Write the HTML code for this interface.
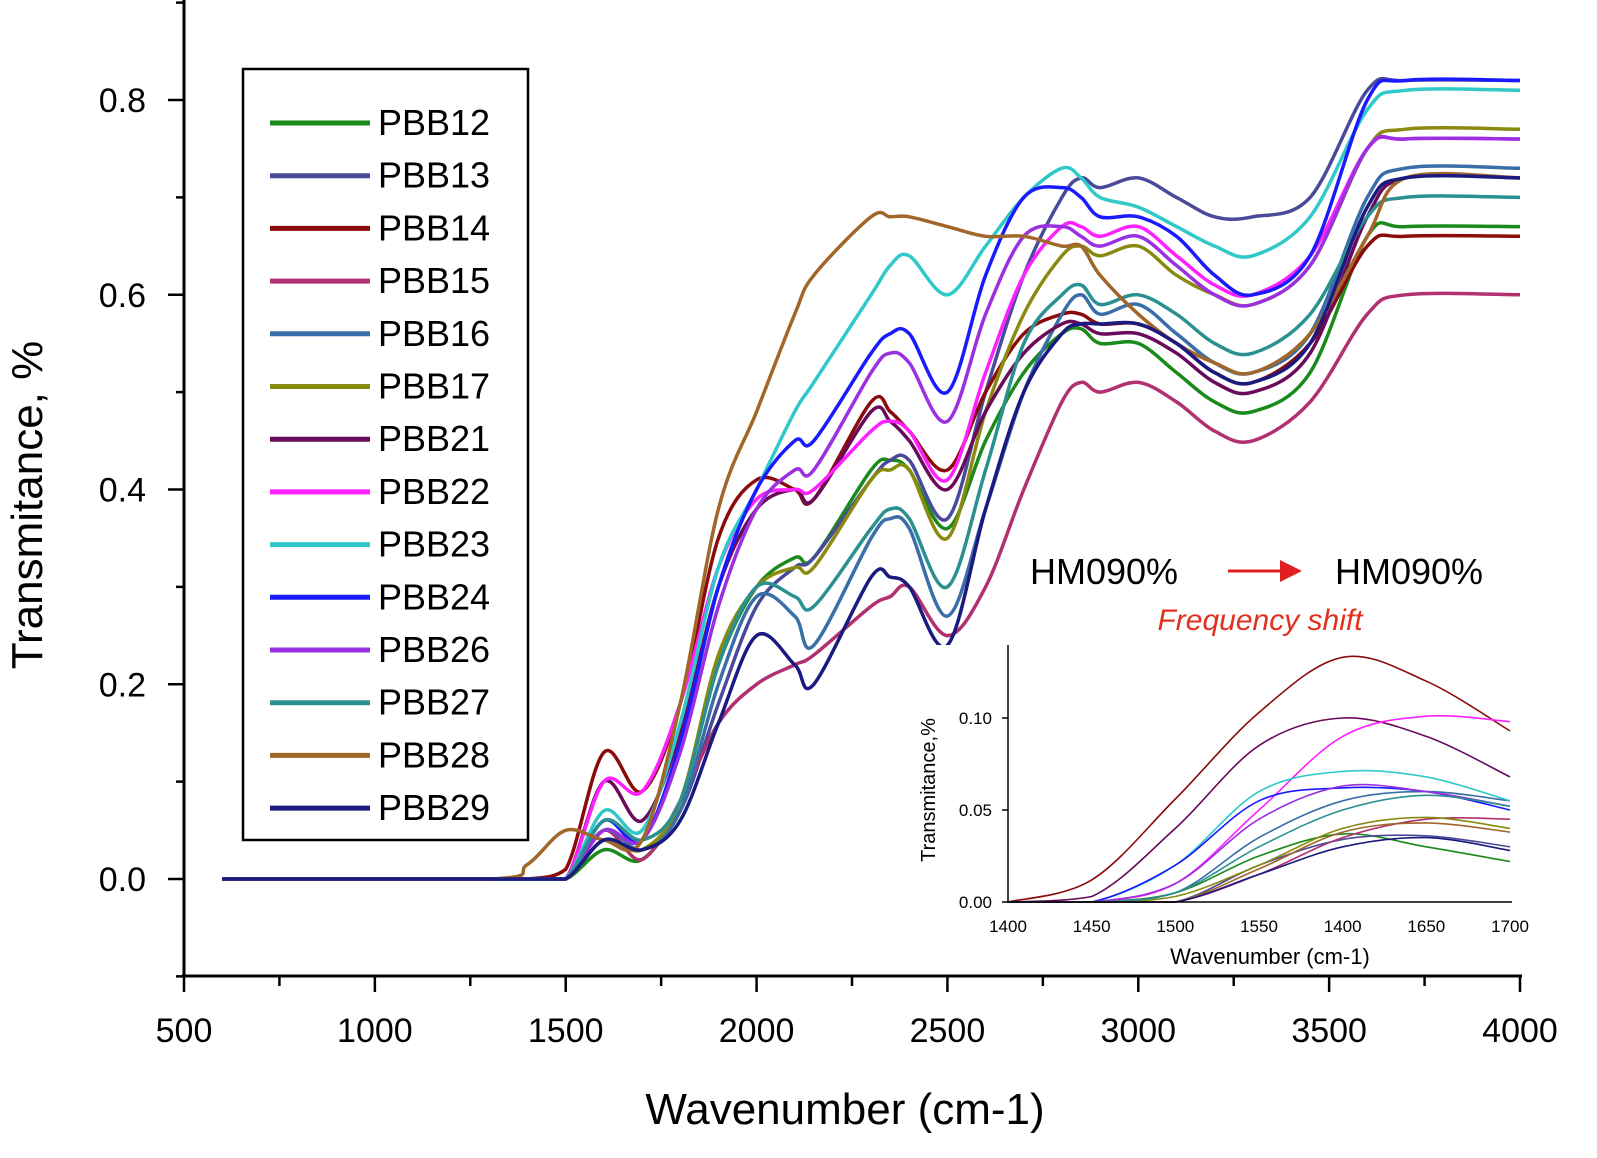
<!DOCTYPE html>
<html><head><meta charset="utf-8"><style>
body{margin:0;background:#fff;}
svg{display:block;font-family:"Liberation Sans",sans-serif;}
</style></head><body>
<svg id="chart" width="1597" height="1158" viewBox="0 0 1597 1158"></svg>
<script>
const wn=[600,1300,1400,1500,1600,1700,1800,1900,2000,2100,2150,2300,2350,2400,2500,2600,2700,2800,2850,2900,3000,3100,3200,3300,3450,3600,3700,4000];
const names=["PBB12","PBB13","PBB14","PBB15","PBB16","PBB17","PBB21","PBB22","PBB23","PBB24","PBB26","PBB27","PBB28","PBB29"];
const colors=["#1a8a1a","#4a4a9a","#8b0a0a","#b03070","#3a6ea8","#8a8a10","#6a0a5a","#ff20ff","#30c8c8","#1a1aff","#9a30e0","#2a9090","#a0662a","#1a1a80"];
const vPBB12=[0,0,0,0,0.03,0.02,0.08,0.22,0.30,0.33,0.33,0.42,0.43,0.42,0.36,0.45,0.52,0.56,0.565,0.55,0.55,0.52,0.49,0.48,0.52,0.66,0.67,0.67];
const vPBB13=[0,0,0,0,0.04,0.03,0.07,0.18,0.28,0.32,0.33,0.41,0.43,0.43,0.37,0.5,0.62,0.70,0.72,0.71,0.72,0.70,0.68,0.68,0.70,0.81,0.82,0.82];
const vPBB14=[0,0,0,0.01,0.13,0.09,0.18,0.35,0.41,0.40,0.39,0.49,0.48,0.46,0.42,0.50,0.56,0.58,0.58,0.57,0.57,0.55,0.52,0.51,0.55,0.65,0.66,0.66];
const vPBB15=[0,0,0,0,0.05,0.02,0.08,0.16,0.20,0.22,0.23,0.28,0.29,0.30,0.25,0.30,0.40,0.49,0.51,0.50,0.51,0.49,0.46,0.45,0.49,0.58,0.60,0.60];
const vPBB16=[0,0,0,0,0.05,0.03,0.07,0.20,0.29,0.27,0.24,0.35,0.37,0.36,0.27,0.38,0.50,0.58,0.60,0.58,0.59,0.56,0.53,0.52,0.56,0.70,0.73,0.73];
const vPBB17=[0,0,0,0,0.04,0.03,0.08,0.23,0.30,0.32,0.32,0.41,0.42,0.42,0.35,0.48,0.58,0.64,0.65,0.64,0.65,0.62,0.60,0.59,0.63,0.75,0.77,0.77];
const vPBB21=[0,0,0,0,0.10,0.06,0.15,0.30,0.38,0.40,0.39,0.48,0.47,0.45,0.40,0.48,0.54,0.57,0.57,0.56,0.56,0.54,0.51,0.50,0.54,0.68,0.72,0.72];
const vPBB22=[0,0,0,0,0.10,0.09,0.18,0.32,0.39,0.40,0.40,0.46,0.47,0.46,0.41,0.52,0.62,0.67,0.67,0.66,0.67,0.64,0.61,0.60,0.64,0.75,0.76,0.76];
const vPBB23=[0,0,0,0,0.07,0.05,0.16,0.32,0.40,0.48,0.51,0.60,0.63,0.64,0.60,0.65,0.70,0.73,0.72,0.70,0.69,0.67,0.65,0.64,0.68,0.79,0.81,0.81];
const vPBB24=[0,0,0,0,0.06,0.04,0.14,0.30,0.40,0.45,0.45,0.54,0.56,0.56,0.50,0.62,0.70,0.71,0.70,0.68,0.68,0.66,0.62,0.60,0.64,0.80,0.82,0.82];
const vPBB26=[0,0,0,0,0.05,0.04,0.13,0.28,0.38,0.42,0.42,0.52,0.54,0.53,0.47,0.58,0.66,0.67,0.66,0.65,0.66,0.63,0.60,0.59,0.63,0.75,0.76,0.76];
const vPBB27=[0,0,0,0,0.06,0.04,0.08,0.22,0.30,0.29,0.28,0.36,0.38,0.37,0.30,0.42,0.55,0.60,0.61,0.59,0.60,0.58,0.55,0.54,0.58,0.68,0.70,0.70];
const vPBB28=[0,0,0.015,0.05,0.04,0.04,0.18,0.38,0.48,0.58,0.62,0.68,0.68,0.68,0.67,0.66,0.66,0.65,0.65,0.62,0.58,0.55,0.53,0.52,0.56,0.66,0.72,0.72];
const vPBB29=[0,0,0,0,0.04,0.03,0.06,0.16,0.25,0.22,0.20,0.31,0.31,0.30,0.24,0.38,0.50,0.56,0.57,0.57,0.57,0.55,0.52,0.51,0.55,0.69,0.72,0.72];
const mainSeries=[vPBB12,vPBB13,vPBB14,vPBB15,vPBB16,vPBB17,vPBB21,vPBB22,vPBB23,vPBB24,vPBB26,vPBB27,vPBB28,vPBB29];
const xTicks=[500,1000,1500,2000,2500,3000,3500,4000];
const yTicks=[0.0,0.2,0.4,0.6,0.8];
const yTickLabels=["0.0","0.2","0.4","0.6","0.8"];
// inset
const insetX=[1400,1450,1500,1550,1600,1650,1700];
const insetXLabels=["1400","1450","1500","1550","1400","1650","1700"];
const insetYTicks=[0,0.05,0.10];
const insetYLabels=["0.00","0.05","0.10"];
const iPBB12=[0,0,0.005,0.025,0.037,0.030,0.022];
const iPBB13=[0,0,0,0.020,0.034,0.036,0.030];
const iPBB14=[0,0.012,0.056,0.103,0.133,0.120,0.093];
const iPBB15=[0,0,0,0.015,0.035,0.045,0.045];
const iPBB16=[0,0,0.005,0.035,0.055,0.060,0.055];
const iPBB17=[0,0,0.003,0.020,0.040,0.046,0.040];
const iPBB21=[0,0.003,0.040,0.085,0.100,0.090,0.068];
const iPBB22=[0,0,0.010,0.050,0.090,0.101,0.098];
const iPBB23=[0,0,0.020,0.060,0.071,0.068,0.055];
const iPBB24=[0,0,0.020,0.055,0.062,0.060,0.050];
const iPBB26=[0,0,0.010,0.045,0.063,0.060,0.052];
const iPBB27=[0,0,0.005,0.030,0.050,0.058,0.052];
const iPBB28=[0,0,0,0.018,0.038,0.043,0.038];
const iPBB29=[0,0,0,0.015,0.030,0.035,0.028];
const insetSeries=[iPBB12,iPBB13,iPBB14,iPBB15,iPBB16,iPBB17,iPBB21,iPBB22,iPBB23,iPBB24,iPBB26,iPBB27,iPBB28,iPBB29];

const svg=document.getElementById('chart');
const NS="http://www.w3.org/2000/svg";
function mk(tag,attrs,parent){const e=document.createElementNS(NS,tag);for(const k in attrs)e.setAttribute(k,attrs[k]);(parent||svg).appendChild(e);return e;}
function smooth(P,floorY){let d='M'+P[0][0].toFixed(1)+','+P[0][1].toFixed(1);
 for(let j=0;j<P.length-1;j++){const p0=P[Math.max(0,j-1)],p1=P[j],p2=P[j+1],p3=P[Math.min(P.length-1,j+2)];
  const c1=[p1[0]+(p2[0]-p0[0])/6,Math.min(floorY,p1[1]+(p2[1]-p0[1])/6)],c2=[p2[0]-(p3[0]-p1[0])/6,Math.min(floorY,p2[1]-(p3[1]-p1[1])/6)];
  d+=` C${c1[0].toFixed(1)},${c1[1].toFixed(1)} ${c2[0].toFixed(1)},${c2[1].toFixed(1)} ${p2[0].toFixed(1)},${p2[1].toFixed(1)}`;}
 return d;}
const xS=w=>184+(w-500)*(1336/3500);
const yS=v=>879-v*973.75;
// axes
let a=mk('line',{x1:184,y1:0,x2:184,y2:976,stroke:'#000','stroke-width':3});

a=mk('line',{x1:182,y1:976,x2:1522,y2:976,stroke:'#000','stroke-width':3});

for(let k=-1;k<=9;k++){const v=k/10;const y=yS(v);const maj=k%2===0;
 const t=mk('line',{x1:maj?168:176,y1:y,x2:184,y2:y,stroke:'#000','stroke-width':2.5});
 }
yTicks.forEach((v,i)=>{const t=mk('text',{x:146,y:yS(v)+12,'text-anchor':'end','font-size':34});t.textContent=yTickLabels[i];
 });
for(let w=500;w<=4000;w+=250){const x=xS(w);const maj=w%500===0;
 const t=mk('line',{x1:x,y1:976,x2:x,y2:maj?992:986,stroke:'#000','stroke-width':2.5});
 }
xTicks.forEach(w=>{const t=mk('text',{x:xS(w),y:1042,'text-anchor':'middle','font-size':34});t.textContent=w;
 });
let tt=mk('text',{x:845,y:1124,'text-anchor':'middle','font-size':44});tt.textContent="Wavenumber (cm-1)";

tt=mk('text',{x:0,y:0,'text-anchor':'middle','font-size':44,transform:'translate(42,505) rotate(-90)'});tt.textContent="Transmitance, %";

// main series
mainSeries.forEach((vals,i)=>{const P=vals.map((v,j)=>[xS(wn[j]),yS(v)]);
 const p=mk('path',{d:smooth(P,yS(0)),fill:'none',stroke:colors[i],'stroke-width':3.5,'stroke-linejoin':'round'});
 });
// legend
const lg=mk('g',{});
mk('rect',{x:243,y:69,width:285,height:771,fill:'#fff',stroke:'#000','stroke-width':2.5},lg);
names.forEach((n,i)=>{const y=123+i*52.7;const g=mk('g',{},lg);
 
 mk('line',{x1:270,y1:y,x2:370,y2:y,stroke:colors[i],'stroke-width':5},g);
 const t=mk('text',{x:378,y:y+12,'font-size':36},g);t.textContent=n;});
// inset
const ig=mk('g',{});
mk('rect',{x:925,y:645,width:610,height:328,fill:'#fff'},ig);
const ixS=w=>1008+(w-1400)*(502/300);
const iyS=v=>902-v*1840;
insetSeries.forEach((vals,i)=>{const P=vals.map((v,j)=>[ixS(insetX[j]),iyS(v)]);
 const p=mk('path',{d:smooth(P,902),fill:'none',stroke:colors[i],'stroke-width':1.6},ig);
 });
mk('line',{x1:1008,y1:645,x2:1008,y2:903,stroke:'#000','stroke-width':1.5},ig);
mk('line',{x1:1007,y1:902,x2:1512,y2:902,stroke:'#000','stroke-width':1.5},ig);
insetYTicks.forEach((v,i)=>{mk('line',{x1:1002,y1:iyS(v),x2:1008,y2:iyS(v),stroke:'#000','stroke-width':1.5},ig);
 const t=mk('text',{x:992,y:iyS(v)+6,'text-anchor':'end','font-size':17},ig);t.textContent=insetYLabels[i];});
insetX.forEach((w,i)=>{const t=mk('text',{x:ixS(w),y:932,'text-anchor':'middle','font-size':17},ig);t.textContent=insetXLabels[i];});
tt=mk('text',{x:1270,y:964,'text-anchor':'middle','font-size':22},ig);tt.textContent="Wavenumber (cm-1)";

tt=mk('text',{x:0,y:0,'text-anchor':'middle','font-size':20,transform:'translate(935,790) rotate(-90)'},ig);tt.textContent="Transmitance,%";

// annotations
tt=mk('text',{x:1030,y:584,'font-size':36});tt.textContent="HM090%";

tt=mk('text',{x:1335,y:584,'font-size':36});tt.textContent="HM090%";

const ar=mk('g',{});
mk('line',{x1:1228,y1:571,x2:1282,y2:571,stroke:'#e02020','stroke-width':3},ar);
mk('polygon',{points:'1280,560 1302,571 1280,582',fill:'#e02020'},ar);
tt=mk('text',{x:1260,y:630,'text-anchor':'middle','font-size':30,'font-style':'italic',fill:'#e03020'});tt.textContent="Frequency shift";

</script>
</body></html>
